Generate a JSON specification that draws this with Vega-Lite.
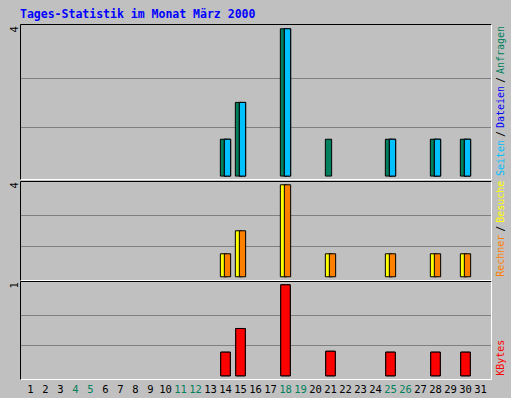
{
  "$schema": "https://vega.github.io/schema/vega-lite/v6.json",
  "background": "#C0C0C0",
  "padding": {"left": 9, "top": 8, "right": 4, "bottom": 3},
  "spacing": 1,
  "datasets": {
    "daily": [
      {"day": 14, "hits": 1, "files": 1, "pages": 1, "visits": 1, "sites": 1, "kbytes": 0.26},
      {"day": 15, "hits": 2, "files": 2, "pages": 2, "visits": 2, "sites": 2, "kbytes": 0.52},
      {"day": 18, "hits": 4, "files": 4, "pages": 4, "visits": 4, "sites": 4, "kbytes": 1.0},
      {"day": 21, "hits": 1, "files": 0, "pages": 0, "visits": 1, "sites": 1, "kbytes": 0.27},
      {"day": 25, "hits": 1, "files": 1, "pages": 1, "visits": 1, "sites": 1, "kbytes": 0.26},
      {"day": 28, "hits": 1, "files": 1, "pages": 1, "visits": 1, "sites": 1, "kbytes": 0.26},
      {"day": 30, "hits": 1, "files": 1, "pages": 1, "visits": 1, "sites": 1, "kbytes": 0.26}
    ],
    "labels": [
      {"piece": "Seiten", "text": "Seiten"},
      {"piece": "sep1", "text": "/"},
      {"piece": "Dateien", "text": "Dateien"},
      {"piece": "sep2", "text": "/"},
      {"piece": "Anfragen", "text": "Anfragen"},
      {"piece": "Rechner", "text": "Rechner"},
      {"piece": "sep3", "text": "/"},
      {"piece": "Besuche", "text": "Besuche"},
      {"piece": "KBytes", "text": "KBytes"}
    ]
  },
  "resolve": {"scale": {"y": "independent", "x": "independent"}},
  "vconcat": [
    {
      "title": {"text": "Tages-Statistik im Monat März 2000", "anchor": "start", "frame": "group", "font": "DejaVu Sans Mono", "fontSize": 11.5, "fontWeight": "bold", "color": "#0000FF", "offset": 4},
      "width": 471,
      "height": 155,
      "resolve": {"axis": {"x": "independent", "y": "independent"}},
      "layer": [
        {
          "data": {"name": "daily"},
          "mark": {"type": "bar", "width": 6.3, "xOffset": -2, "color": "#00805C", "stroke": "black", "strokeWidth": 1},
          "encoding": {
            "x": {"field": "day", "type": "ordinal", "scale": {"domain": [1,2,3,4,5,6,7,8,9,10,11,12,13,14,15,16,17,18,19,20,21,22,23,24,25,26,27,28,29,30,31], "paddingInner": 0, "paddingOuter": 0.2},
                  "axis": {"orient": "bottom", "labels": false, "ticks": false, "grid": false, "domainColor": "white", "title": null}},
            "y": {"field": "hits", "type": "quantitative", "scale": {"domain": [-0.08, 4.13], "nice": false, "zero": false},
                  "axis": {"orient": "left", "values": [1.3333, 2.6667, 4], "labelExpr": "datum.value > 3.9 ? '4' : ''", "grid": true, "gridColor": "#808080", "gridOpacity": {"condition": {"test": "datum.value > 3.9", "value": 0}, "value": 1}, "ticks": false, "domainColor": "black", "title": null, "labelAngle": 270, "labelAlign": "center", "labelBaseline": "alphabetic", "labelPadding": 3, "labelFont": "DejaVu Sans Mono", "labelFontSize": 10.5, "labelColor": "black"}}
          }
        },
        {
          "data": {"name": "daily"},
          "transform": [{"filter": "datum.files > 0"}],
          "mark": {"type": "bar", "width": 6.3, "xOffset": 2, "color": "#0000FF", "stroke": "black", "strokeWidth": 1},
          "encoding": {
            "x": {"field": "day", "type": "ordinal", "scale": {"domain": [1,2,3,4,5,6,7,8,9,10,11,12,13,14,15,16,17,18,19,20,21,22,23,24,25,26,27,28,29,30,31], "paddingInner": 0, "paddingOuter": 0.2},
                  "axis": {"orient": "top", "labels": false, "ticks": false, "grid": false, "domainColor": "black", "title": null}},
            "y": {"field": "files", "type": "quantitative", "scale": {"domain": [-0.08, 4.13], "nice": false, "zero": false},
                  "axis": {"orient": "right", "labels": false, "ticks": false, "grid": false, "domainColor": "white", "title": null}}
          }
        },
        {
          "data": {"name": "daily"},
          "transform": [{"filter": "datum.pages > 0"}],
          "mark": {"type": "bar", "width": 6.3, "xOffset": 2, "color": "#00C0FF", "stroke": "black", "strokeWidth": 1},
          "encoding": {
            "x": {"field": "day", "type": "ordinal", "axis": null},
            "y": {"field": "pages", "type": "quantitative", "axis": null}
          }
        },
        {
          "data": {"name": "labels"},
          "transform": [{"filter": "datum.piece == 'Seiten'"}],
          "mark": {"type": "text", "angle": 270, "align": "left", "baseline": "middle", "font": "DejaVu Sans Mono", "fontSize": 10, "dy": 10, "dx": 0, "color": "#00C0FF"},
          "encoding": {"x": {"value": "width"}, "y": {"datum": 0, "type": "quantitative", "axis": null}, "text": {"field": "text"}}
        },
        {
          "data": {"name": "labels"},
          "transform": [{"filter": "datum.piece == 'sep1'"}],
          "mark": {"type": "text", "angle": 270, "align": "left", "baseline": "middle", "font": "DejaVu Sans Mono", "fontSize": 10, "dy": 10, "dx": 39, "color": "black"},
          "encoding": {"x": {"value": "width"}, "y": {"datum": 0, "type": "quantitative", "axis": null}, "text": {"field": "text"}}
        },
        {
          "data": {"name": "labels"},
          "transform": [{"filter": "datum.piece == 'Dateien'"}],
          "mark": {"type": "text", "angle": 270, "align": "left", "baseline": "middle", "font": "DejaVu Sans Mono", "fontSize": 10, "dy": 10, "dx": 48, "color": "#0000FF"},
          "encoding": {"x": {"value": "width"}, "y": {"datum": 0, "type": "quantitative", "axis": null}, "text": {"field": "text"}}
        },
        {
          "data": {"name": "labels"},
          "transform": [{"filter": "datum.piece == 'sep2'"}],
          "mark": {"type": "text", "angle": 270, "align": "left", "baseline": "middle", "font": "DejaVu Sans Mono", "fontSize": 10, "dy": 10, "dx": 93, "color": "black"},
          "encoding": {"x": {"value": "width"}, "y": {"datum": 0, "type": "quantitative", "axis": null}, "text": {"field": "text"}}
        },
        {
          "data": {"name": "labels"},
          "transform": [{"filter": "datum.piece == 'Anfragen'"}],
          "mark": {"type": "text", "angle": 270, "align": "left", "baseline": "middle", "font": "DejaVu Sans Mono", "fontSize": 10, "dy": 10, "dx": 102, "color": "#00805C"},
          "encoding": {"x": {"value": "width"}, "y": {"datum": 0, "type": "quantitative", "axis": null}, "text": {"field": "text"}}
        }
      ]
    },
    {
      "width": 471,
      "height": 99,
      "resolve": {"axis": {"x": "independent", "y": "independent"}},
      "layer": [
        {
          "data": {"name": "daily"},
          "mark": {"type": "bar", "width": 6.3, "xOffset": -2, "color": "#FFFF00", "stroke": "black", "strokeWidth": 1},
          "encoding": {
            "x": {"field": "day", "type": "ordinal", "scale": {"domain": [1,2,3,4,5,6,7,8,9,10,11,12,13,14,15,16,17,18,19,20,21,22,23,24,25,26,27,28,29,30,31], "paddingInner": 0, "paddingOuter": 0.2},
                  "axis": {"orient": "bottom", "labels": false, "ticks": false, "grid": false, "domainColor": "white", "title": null}},
            "y": {"field": "visits", "type": "quantitative", "scale": {"domain": [-0.14, 4.165], "nice": false, "zero": false},
                  "axis": {"orient": "left", "values": [1.3333, 2.6667, 4], "labelExpr": "datum.value > 3.9 ? '4' : ''", "grid": true, "gridColor": "#808080", "gridOpacity": {"condition": {"test": "datum.value > 3.9", "value": 0}, "value": 1}, "ticks": false, "domainColor": "black", "title": null, "labelAngle": 270, "labelAlign": "center", "labelBaseline": "alphabetic", "labelPadding": 3, "labelFont": "DejaVu Sans Mono", "labelFontSize": 10.5, "labelColor": "black"}}
          }
        },
        {
          "data": {"name": "daily"},
          "mark": {"type": "bar", "width": 6.3, "xOffset": 2, "color": "#FF8000", "stroke": "black", "strokeWidth": 1},
          "encoding": {
            "x": {"field": "day", "type": "ordinal", "scale": {"domain": [1,2,3,4,5,6,7,8,9,10,11,12,13,14,15,16,17,18,19,20,21,22,23,24,25,26,27,28,29,30,31], "paddingInner": 0, "paddingOuter": 0.2},
                  "axis": {"orient": "top", "labels": false, "ticks": false, "grid": false, "domainColor": "black", "title": null}},
            "y": {"field": "sites", "type": "quantitative", "scale": {"domain": [-0.14, 4.165], "nice": false, "zero": false},
                  "axis": {"orient": "right", "labels": false, "ticks": false, "grid": false, "domainColor": "white", "title": null}}
          }
        },
        {
          "data": {"name": "labels"},
          "transform": [{"filter": "datum.piece == 'Rechner'"}],
          "mark": {"type": "text", "angle": 270, "align": "left", "baseline": "middle", "font": "DejaVu Sans Mono", "fontSize": 10, "dy": 10, "dx": 0, "color": "#FF8000"},
          "encoding": {"x": {"value": "width"}, "y": {"datum": 0, "type": "quantitative", "axis": null}, "text": {"field": "text"}}
        },
        {
          "data": {"name": "labels"},
          "transform": [{"filter": "datum.piece == 'sep3'"}],
          "mark": {"type": "text", "angle": 270, "align": "left", "baseline": "middle", "font": "DejaVu Sans Mono", "fontSize": 10, "dy": 10, "dx": 45, "color": "black"},
          "encoding": {"x": {"value": "width"}, "y": {"datum": 0, "type": "quantitative", "axis": null}, "text": {"field": "text"}}
        },
        {
          "data": {"name": "labels"},
          "transform": [{"filter": "datum.piece == 'Besuche'"}],
          "mark": {"type": "text", "angle": 270, "align": "left", "baseline": "middle", "font": "DejaVu Sans Mono", "fontSize": 10, "dy": 10, "dx": 54, "color": "#FFFF00"},
          "encoding": {"x": {"value": "width"}, "y": {"datum": 0, "type": "quantitative", "axis": null}, "text": {"field": "text"}}
        }
      ]
    },
    {
      "width": 471,
      "height": 98,
      "resolve": {"axis": {"x": "independent", "y": "independent"}},
      "layer": [
        {
          "data": {"name": "daily"},
          "mark": {"type": "bar", "width": 9.5, "color": "#FF0000", "stroke": "black", "strokeWidth": 1},
          "encoding": {
            "x": {"field": "day", "type": "ordinal", "scale": {"domain": [1,2,3,4,5,6,7,8,9,10,11,12,13,14,15,16,17,18,19,20,21,22,23,24,25,26,27,28,29,30,31], "paddingInner": 0, "paddingOuter": 0.2},
                  "axis": {"orient": "bottom", "ticks": false, "grid": false, "domainColor": "white", "title": null, "labelAngle": 0, "labelPadding": 5, "labelOverlap": false, "labelFont": "DejaVu Sans Mono", "labelFontSize": 10.5,
                           "labelColor": {"condition": {"test": "indexof([4,5,11,12,18,19,25,26], datum.value) >= 0", "value": "#00805C"}, "value": "black"}}},
            "y": {"field": "kbytes", "type": "quantitative", "scale": {"domain": [-0.035, 1.042], "nice": false, "zero": false},
                  "axis": {"orient": "left", "values": [0.3333, 0.6667, 1], "labelExpr": "datum.value > 0.9 ? '1' : ''", "grid": true, "gridColor": "#808080", "gridOpacity": {"condition": {"test": "datum.value > 0.9", "value": 0}, "value": 1}, "ticks": false, "domainColor": "black", "title": null, "labelAngle": 270, "labelAlign": "center", "labelBaseline": "alphabetic", "labelPadding": 3, "labelFont": "DejaVu Sans Mono", "labelFontSize": 10.5, "labelColor": "black"}}
          }
        },
        {
          "data": {"name": "daily"},
          "mark": {"type": "bar", "width": 9.5, "color": "#FF0000", "stroke": "black", "strokeWidth": 1},
          "encoding": {
            "x": {"field": "day", "type": "ordinal", "scale": {"domain": [1,2,3,4,5,6,7,8,9,10,11,12,13,14,15,16,17,18,19,20,21,22,23,24,25,26,27,28,29,30,31], "paddingInner": 0, "paddingOuter": 0.2},
                  "axis": {"orient": "top", "labels": false, "ticks": false, "grid": false, "domainColor": "black", "title": null}},
            "y": {"field": "kbytes", "type": "quantitative", "scale": {"domain": [-0.035, 1.042], "nice": false, "zero": false},
                  "axis": {"orient": "right", "labels": false, "ticks": false, "grid": false, "domainColor": "white", "title": null}}
          }
        },
        {
          "data": {"name": "labels"},
          "transform": [{"filter": "datum.piece == 'KBytes'"}],
          "mark": {"type": "text", "angle": 270, "align": "left", "baseline": "middle", "font": "DejaVu Sans Mono", "fontSize": 10, "dy": 10, "dx": 0, "color": "#FF0000"},
          "encoding": {"x": {"value": "width"}, "y": {"datum": 0, "type": "quantitative", "axis": null}, "text": {"field": "text"}}
        }
      ]
    }
  ],
  "config": {
    "view": {"stroke": null},
    "axis": {"minExtent": 0, "domainWidth": 1}
  }
}
